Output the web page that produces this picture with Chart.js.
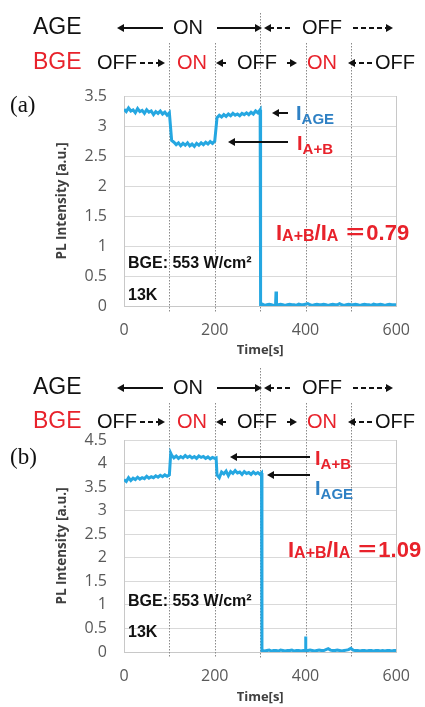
<!DOCTYPE html>
<html>
<head>
<meta charset="utf-8">
<script src="https://cdn.jsdelivr.net/npm/chart.js@4.4.1/dist/chart.umd.min.js"></script>
<style>
  html, body { margin: 0; padding: 0; background: #fff; }
  body { width: 425px; height: 707px; position: relative; overflow: hidden; }
  canvas { position: absolute; left: 0; }
  #chartA { top: 0; }
  #chartB { top: 360px; }
</style>
</head>
<body>
<canvas id="chartA" width="425" height="360"></canvas>
<canvas id="chartB" width="425" height="347"></canvas>
<script>
// Panel (a) trace: time [s] and PL intensity [a.u.]
const timeA = [0,5,10,15,20,25,30,35,40,45,50,55,60,65,70,75,80,85,90,95,100,
  105,110,115,120,125,130,135,140,145,150,155,160,165,170,175,180,185,190,195,200,
  205,210,215,220,225,230,235,240,245,250,255,260,265,270,275,280,285,290,295,300,
  301,305,310,315,320,325,330,334,335,336,
  340,345,350,355,360,365,370,375,380,385,390,395,400,405,410,415,420,425,430,435,
  440,445,450,455,460,465,470,475,480,485,490,495,500,505,510,515,520,525,530,535,
  540,545,550,555,560,565,570,575,580,585,590,595,600];
const intensityA = [3.28,3.24,3.30,3.25,3.27,3.22,3.29,3.24,3.26,3.21,3.27,3.23,3.25,3.19,3.24,3.21,3.25,3.20,3.23,3.18,3.22,
  2.76,2.73,2.69,2.72,2.67,2.71,2.68,2.72,2.67,2.70,2.66,2.71,2.68,2.72,2.69,2.73,2.70,2.74,2.71,2.75,
  3.14,3.18,3.15,3.19,3.16,3.20,3.17,3.21,3.18,3.20,3.17,3.21,3.19,3.22,3.19,3.23,3.20,3.25,3.22,3.27,
  0.02,0.03,0.01,0.02,0.03,0.02,0.01,0.02,0.24,0.02,
  0.02,0.03,0.02,0.01,0.02,0.03,0.02,0.02,0.01,0.03,0.02,0.02,0.03,0.04,0.02,0.01,0.02,0.03,0.02,0.02,
  0.03,0.02,0.01,0.02,0.03,0.02,0.02,0.04,0.02,0.01,0.02,0.03,0.02,0.02,0.03,0.02,0.01,0.02,0.03,0.02,
  0.02,0.01,0.03,0.02,0.02,0.03,0.02,0.01,0.02,0.03,0.02,0.02,0.02];

// Panel (b) trace
const timeB = [0,5,10,15,20,25,30,35,40,45,50,55,60,65,70,75,80,85,90,95,100,
  103,105,110,115,120,125,130,135,140,145,150,155,160,165,170,175,180,185,190,195,200,
  203,205,210,215,220,225,230,235,240,245,250,255,260,265,270,275,280,285,290,295,300,
  303,304,305,310,315,320,325,330,335,340,345,350,355,360,365,370,375,380,385,390,395,
  399,400,401,
  405,410,415,420,425,430,435,440,445,450,455,460,465,470,475,480,485,490,495,500,
  505,510,515,520,525,530,535,540,545,550,555,560,565,570,575,580,585,590,595,600];
const intensityB = [3.66,3.62,3.70,3.64,3.69,3.66,3.71,3.67,3.70,3.68,3.73,3.69,3.72,3.70,3.74,3.71,3.75,3.72,3.76,3.73,3.76,
  4.22,4.18,4.12,4.16,4.11,4.15,4.12,4.17,4.13,4.16,4.12,4.15,4.11,4.16,4.13,4.15,4.11,4.14,4.10,4.13,4.11,
  4.12,3.76,3.70,3.82,3.78,3.84,3.74,3.83,3.79,3.85,3.80,3.82,3.77,3.83,3.79,3.81,3.77,3.82,3.78,3.81,3.77,
  3.80,0.03,0.03,0.02,0.03,0.04,0.02,0.03,0.03,0.02,0.04,0.03,0.02,0.03,0.03,0.04,0.02,0.03,0.03,0.02,0.03,
  0.03,0.33,0.03,
  0.03,0.04,0.03,0.02,0.03,0.04,0.03,0.03,0.05,0.07,0.04,0.03,0.03,0.04,0.03,0.02,0.03,0.04,0.05,0.08,
  0.04,0.03,0.03,0.02,0.03,0.03,0.02,0.03,0.03,0.02,0.03,0.03,0.02,0.03,0.02,0.03,0.03,0.02,0.03,0.03];

const xTicks = [0, 200, 400, 600];
const yTicksA = [0, 0.5, 1, 1.5, 2, 2.5, 3, 3.5];
const yTicksB = [0, 0.5, 1, 1.5, 2, 2.5, 3, 3.5, 4, 4.5];
const markTimes = [100, 200, 300, 400, 500];   // dotted switching lines

const BLUE = '#2e80c4';
const RED = '#e8222b';
const SANS = '"Liberation Sans", Arial, sans-serif';

function arrow(ctx, x1, y, x2, dashed, lw) {
  const dir = x2 > x1 ? 1 : -1;
  const head = 7;
  ctx.save();
  ctx.strokeStyle = '#111';
  ctx.fillStyle = '#111';
  ctx.lineWidth = lw || 2;
  if (dashed) ctx.setLineDash([5, 3]);
  ctx.beginPath();
  ctx.moveTo(x1, y);
  ctx.lineTo(x2 - dir * head, y);
  ctx.stroke();
  ctx.setLineDash([]);
  ctx.beginPath();
  ctx.moveTo(x2, y);
  ctx.lineTo(x2 - dir * head, y - 4);
  ctx.lineTo(x2 - dir * head, y + 4);
  ctx.closePath();
  ctx.fill();
  ctx.restore();
}

// draw text pieces one after the other (for subscripts)
function runs(ctx, x, y, parts, color) {
  ctx.save();
  ctx.fillStyle = color;
  ctx.textBaseline = 'alphabetic';
  ctx.textAlign = 'left';
  parts.forEach(p => {
    ctx.font = p.font;
    ctx.fillText(p.t, x, y + (p.dy || 0));
    x += ctx.measureText(p.t).width + (p.gap || 0);
  });
  ctx.restore();
}

function text(ctx, s, x, y, font, color, align) {
  ctx.save();
  ctx.font = font;
  ctx.fillStyle = color;
  ctx.textAlign = align || 'left';
  ctx.textBaseline = 'middle';
  ctx.fillText(s, x, y);
  ctx.restore();
}

function header(ctx, yA, yB) {
  text(ctx, 'AGE', 33, yA, '23px ' + SANS, '#111');
  arrow(ctx, 163, yA, 117, false);
  text(ctx, 'ON', 188, yA, '20px ' + SANS, '#111', 'center');
  arrow(ctx, 217, yA, 262, false);
  arrow(ctx, 290, yA, 264, true);
  text(ctx, 'OFF', 322, yA, '20px ' + SANS, '#111', 'center');
  arrow(ctx, 353, yA, 393, true);

  text(ctx, 'BGE', 33, yB, '23px ' + SANS, RED);
  text(ctx, 'OFF', 97, yB, '20px ' + SANS, '#111');
  arrow(ctx, 140, yB, 165, true);
  text(ctx, 'ON', 192, yB, '20px ' + SANS, RED, 'center');
  arrow(ctx, 226, yB, 216, false);
  text(ctx, 'OFF', 257, yB, '20px ' + SANS, '#111', 'center');
  arrow(ctx, 287, yB, 297, false);
  text(ctx, 'ON', 322, yB, '20px ' + SANS, RED, 'center');
  arrow(ctx, 372, yB, 348, true);
  text(ctx, 'OFF', 375, yB, '20px ' + SANS, '#111');
}

function sub(name, color, ctx, x, y) {
  runs(ctx, x, y, [
    { t: 'I', font: 'bold 20px ' + SANS },
    { t: name, font: 'bold 15px ' + SANS, dy: 4 }
  ], color);
}

function ratio(ctx, x, y, val) {
  runs(ctx, x, y, [
    { t: 'I', font: 'bold 22px ' + SANS },
    { t: 'A+B', font: 'bold 16px ' + SANS, dy: 1 },
    { t: '/I', font: 'bold 22px ' + SANS },
    { t: 'A', font: 'bold 16px ' + SANS, dy: 1, gap: 6 },
    { t: '\uFF1D', font: 'bold 22px "Noto Sans CJK JP", sans-serif' },
    { t: val, font: 'bold 22px ' + SANS }
  ], RED);
}

const panelPlugin = {
  id: 'panel',
  beforeDatasetsDraw(chart, args, o) {
    const { ctx, chartArea: a, scales: { x } } = chart;
    ctx.save();
    // right frame line
    ctx.strokeStyle = '#c8c8c8';
    ctx.lineWidth = 1;
    ctx.beginPath();
    ctx.moveTo(Math.round(a.right) + 0.5, a.top);
    ctx.lineTo(Math.round(a.right) + 0.5, a.bottom);
    ctx.stroke();
    // dotted switching lines
    ctx.strokeStyle = '#8a8a8a';
    ctx.setLineDash([1.5, 1.5]);
    markTimes.forEach(t => {
      const px = Math.round(x.getPixelForValue(t)) + 0.5;
      ctx.beginPath();
      ctx.moveTo(px, t === 300 ? o.topAge : o.topBge);
      ctx.lineTo(px, a.bottom + 6);
      ctx.stroke();
    });
    ctx.restore();
  },
  afterDraw(chart, args, o) {
    const { ctx } = chart;
    header(ctx, o.yAge, o.yBge);
    text(ctx, o.label, 10, o.labelY, '23px "Liberation Serif", serif', '#111');
    text(ctx, 'BGE: 553 W/cm\u00B2', 128, o.bgeY, 'bold 16px ' + SANS, '#111');
    text(ctx, '13K', 128, o.kY, 'bold 16px ' + SANS, '#111');
    o.notes(ctx);
  }
};

function makeChart(id, times, values, yTicks, yMax, opts) {
  return new Chart(document.getElementById(id), {
    type: 'line',
    data: {
      datasets: [{
        data: times.map((t, i) => ({ x: t, y: values[i] })),
        borderColor: '#25a7e1',
        borderWidth: 3,
        pointRadius: 0,
        tension: 0
      }]
    },
    options: {
      responsive: false,
      animation: false,
      events: [],
      layout: { padding: { top: opts.top, right: 27, bottom: 0, left: 0 } },
      plugins: {
        legend: { display: false },
        tooltip: { enabled: false },
        panel: opts
      },
      scales: {
        x: {
          type: 'linear', min: 0, max: 600,
          afterBuildTicks: s => { s.ticks = xTicks.map(v => ({ value: v })); },
          afterFit: s => { s.height = opts.xH; },
          ticks: { color: '#595959', font: { family: 'Open Sans', size: 16 }, padding: 15, maxRotation: 0 },
          grid: { display: false, drawTicks: false },
          border: { color: '#c8c8c8' },
          title: { display: true, text: 'Time[s]', color: '#404040',
                   font: { family: 'Open Sans', size: 13, weight: 'bold' }, padding: { top: 0, bottom: 2 } }
        },
        y: {
          min: 0, max: yMax,
          afterBuildTicks: s => { s.ticks = yTicks.map(v => ({ value: v })); },
          afterFit: s => { s.width = 124; },
          ticks: { color: '#595959', font: { family: 'Open Sans', size: 16 }, padding: 17,
                   callback: v => String(v) },
          grid: { color: '#d9d9d9', drawTicks: false },
          border: { color: '#c8c8c8' },
          title: { display: true, text: 'PL Intensity [a.u.]', color: '#404040',
                   font: { family: 'Open Sans', size: 13.5, weight: 'bold' }, padding: { top: 54, bottom: 0 } }
        }
      }
    },
    plugins: [panelPlugin]
  });
}

makeChart('chartA', timeA, intensityA, yTicksA, 3.5, {
  top: 96, xH: 54, yAge: 28, yBge: 63, topAge: 13, topBge: 43,
  label: '(a)', labelY: 106, bgeY: 264, kY: 296,
  notes: ctx => {
    arrow(ctx, 288, 113, 272, false);
    sub('AGE', BLUE, ctx, 296, 120);
    arrow(ctx, 288, 142, 228, false);
    sub('A+B', RED, ctx, 297, 150);
    ratio(ctx, 276, 240, '0.79');
  }
});

makeChart('chartB', timeB, intensityB, yTicksB, 4.5, {
  top: 80, xH: 55, yAge: 28, yBge: 62, topAge: 8, topBge: 43,
  label: '(b)', labelY: 98, bgeY: 242, kY: 273,
  notes: ctx => {
    arrow(ctx, 310, 97, 230, false);
    sub('A+B', RED, ctx, 315, 105);
    arrow(ctx, 310, 115, 267, false);
    sub('AGE', BLUE, ctx, 315, 135);
    ratio(ctx, 288, 197, '1.09');
  }
});
</script>
</body>
</html>
